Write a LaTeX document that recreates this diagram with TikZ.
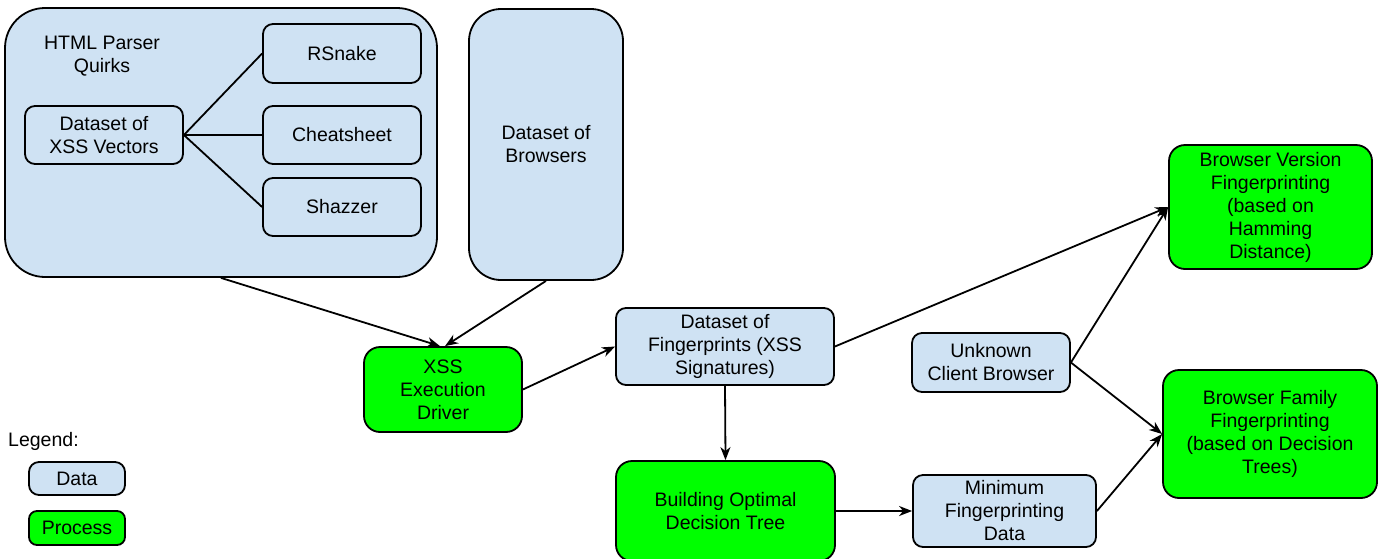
\documentclass[tikz,border=0pt]{standalone}
\usepackage{fontspec}
\setmainfont{Liberation Sans}
\usetikzlibrary{arrows.meta}
\definecolor{databg}{HTML}{CFE2F3}
\definecolor{procbg}{HTML}{00FF00}
\tikzset{
  base/.style={draw=black, line width=1.8pt, align=center, inner sep=0pt,
    font=\fontsize{19.5}{23}\selectfont},
  databox/.style={base, fill=databg, rounded corners=10pt},
  procbox/.style={base, fill=procbg, rounded corners=16pt},
  conn/.style={draw=black, line width=1.8pt},
  arr/.style={conn, -{Stealth[length=13pt,width=10pt,inset=4pt]}},
  lbl/.style={align=center, inner sep=0pt, font=\fontsize{19.5}{23}\selectfont}
}
\begin{document}
\begin{tikzpicture}[x=1pt,y=-1pt]
\useasboundingbox (0,0) rectangle (1380,558);
\clip (0,0) rectangle (1380,558);
% big containers
\node[databox, rounded corners=40pt, minimum width=432pt, minimum height=269pt] (html) at (221,142.5) {};
\node[lbl] (htmllbl) at (102,56) {HTML Parser\\Quirks};
\node[databox, rounded corners=32pt, minimum width=154pt, minimum height=271pt] (brw) at (546,144.5) {Dataset of\\Browsers};
% inner boxes
\node[databox, minimum width=158pt, minimum height=58pt] (dx) at (104,135) {Dataset of\\XSS Vectors};
\node[databox, minimum width=158pt, minimum height=59pt] (rs) at (342,53.5) {RSnake};
\node[databox, minimum width=158pt, minimum height=58pt] (cs) at (342,135) {Cheatsheet};
\node[databox, minimum width=158pt, minimum height=58pt] (sz) at (342,207) {Shazzer};
% process / data nodes
\node[procbox, minimum width=158pt, minimum height=85pt] (drv) at (443,389.5) {XSS\\Execution\\Driver};
\node[databox, minimum width=218pt, minimum height=77pt] (fp) at (725,346.5) {Dataset of\\Fingerprints (XSS\\Signatures)};
\node[procbox, minimum width=219pt, minimum height=100pt] (bdt) at (725.5,511) {Building Optimal\\Decision Tree};
\node[databox, minimum width=158pt, minimum height=59pt] (ucb) at (991,362.5) {Unknown\\Client Browser};
\node[databox, minimum width=183pt, minimum height=72pt] (mfd) at (1004.5,511) {Minimum\\Fingerprinting\\Data};
\node[procbox, minimum width=203pt, minimum height=124pt] (ver) at (1270.5,207) {Browser Version\\Fingerprinting\\(based on\\Hamming\\Distance)};
\node[procbox, minimum width=214pt, minimum height=128pt] (fam) at (1270,434) {Browser Family\\Fingerprinting\\(based on Decision\\Trees)};
% legend
\node[lbl, anchor=west] (leg) at (8,441) {Legend:};
\node[databox, minimum width=96pt, minimum height=33pt] (ldata) at (77,478.5) {Data};
\node[procbox, rounded corners=8pt, minimum width=96pt, minimum height=34pt] (lproc) at (77,528) {Process};
% connectors
\draw[conn] (dx.east) -- (rs.west);
\draw[conn] (dx.east) -- (cs.west);
\draw[conn] (dx.east) -- (sz.west);
\draw[arr] (html.south) -- ([xshift=-3pt]drv.north);
\draw[arr] (brw.south) -- ([xshift=2pt]drv.north);
\draw[arr] (drv.east) -- (fp.west);
\draw[arr] (fp.east) -- (ver.west);
\draw[arr] (fp.south) -- (bdt.north);
\draw[arr] (bdt.east |- mfd.west) -- (mfd.west);
\draw[arr] (ucb.east) -- (ver.west);
\draw[arr] (ucb.east) -- (fam.west);
\draw[arr] (mfd.east) -- (fam.west);
\end{tikzpicture}
\end{document}
